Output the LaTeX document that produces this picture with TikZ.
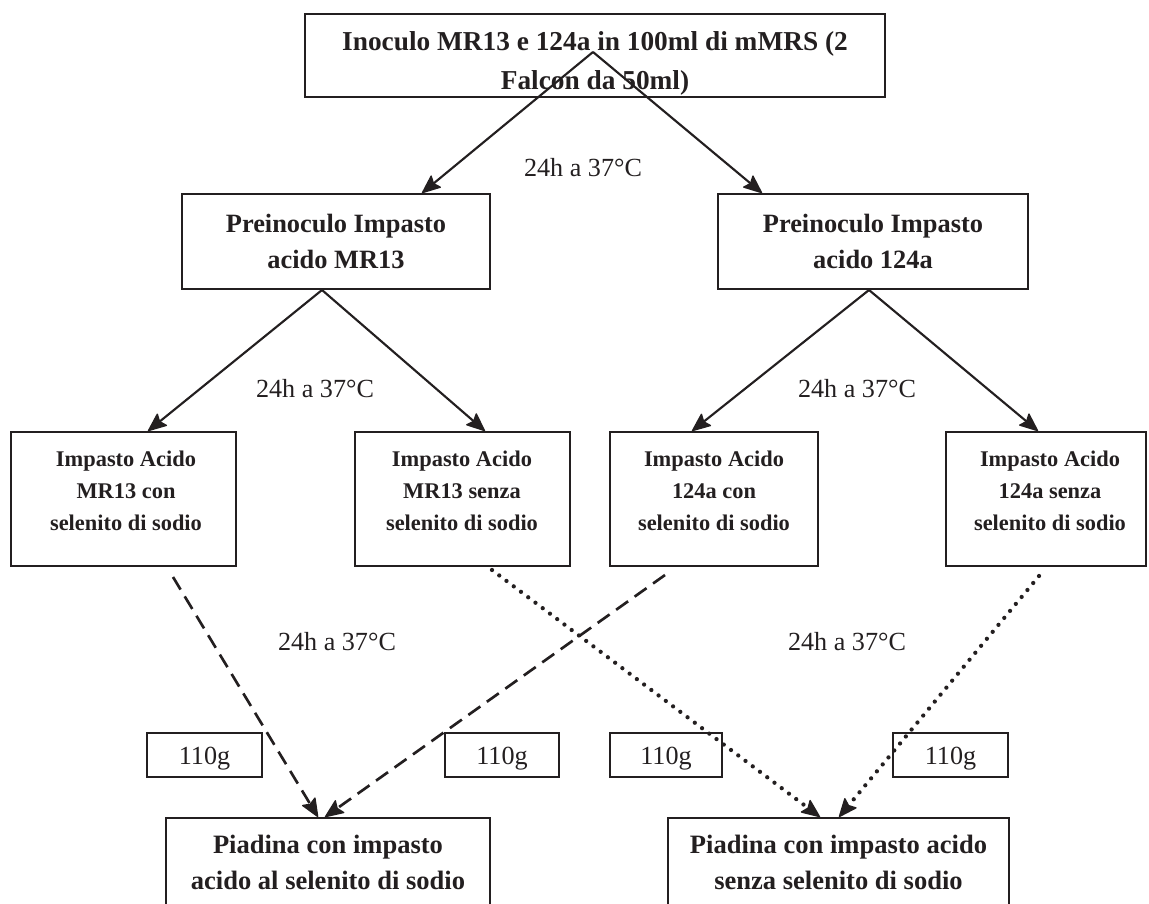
\documentclass[tikz,border=0pt]{standalone}
\usepackage{fontspec}
\setmainfont{Liberation Serif}
\usetikzlibrary{arrows.meta,calc,fit}
\definecolor{ink}{HTML}{231F20}

\begin{document}
\begin{tikzpicture}[x=0.75pt,y=-0.75pt,
  box/.style={draw=ink,line width=1.5pt,inner sep=0pt},
  txt/.style={text=ink,inner sep=0pt,align=center,anchor=north},
  fTop/.style={font=\fontsize{20.5pt}{29.3pt}\selectfont\bfseries},
  fPre/.style={font=\fontsize{19.8pt}{27pt}\selectfont\bfseries},
  fImp/.style={font=\fontsize{16.8pt}{24pt}\selectfont\bfseries},
  fPia/.style={font=\fontsize{19.9pt}{27pt}\selectfont\bfseries},
  lbl/.style={text=ink,inner sep=0pt,anchor=base,font=\fontsize{19.6pt}{23pt}\selectfont},
  tip/.style={-{Stealth[length=15pt,width=12.5pt,inset=2.5pt,line width=1pt,round]}},
  arr/.style={draw=ink,line width=1.6pt,tip},
  dasharr/.style={arr,line width=2pt,dash pattern=on 11pt off 6pt},
  dotarr/.style={arr,line width=3.2pt,line cap=round,dash pattern=on 0pt off 6.8pt}]

\useasboundingbox (0,0) rectangle (1149,903);
\clip (0,0) rectangle (1149,903);

% boxes
\node[box,fit={(305,14) (885,97)}] (inoc) {};
\node[box,fit={(182,194) (490,289)}] (pre1) {};
\node[box,fit={(718,194) (1028,289)}] (pre2) {};
\node[box,fit={(11,432) (236,566)}] (imp1) {};
\node[box,fit={(355,432) (570,566)}] (imp2) {};
\node[box,fit={(610,432) (818,566)}] (imp3) {};
\node[box,fit={(946,432) (1146,566)}] (imp4) {};
\node[box,fit={(147,733) (262,777)}] (g1) {};
\node[box,fit={(445,733) (559,777)}] (g2) {};
\node[box,fit={(610,733) (722,777)}] (g3) {};
\node[box,fit={(893,733) (1008,777)}] (g4) {};
\node[box,fit={(166,818) (490,930)}] (pia1) {};
\node[box,fit={(668,818) (1009,930)}] (pia2) {};

% box texts
\begin{scope}
  \clip (305,14) rectangle (885,97);
  \node[txt,fTop] (inoct) at (595,22.7) {\strut Inoculo MR13 e 124a in 100ml di mMRS (2\\Falcon da 50ml)};
\end{scope}
\node[txt,fPre] (pre1t) at (336,206.8) {\strut Preinoculo Impasto\\acido MR13};
\node[txt,fPre] (pre2t) at (873,206.8) {\strut Preinoculo Impasto\\acido 124a};
\node[txt,fImp] (imp1t) at (126,443.6) {\strut Impasto Acido\\MR13 con\\selenito di sodio};
\node[txt,fImp] (imp2t) at (462,443.6) {\strut Impasto Acido\\MR13 senza\\selenito di sodio};
\node[txt,fImp] (imp3t) at (714,443.6) {\strut Impasto Acido\\124a con\\selenito di sodio};
\node[txt,fImp] (imp4t) at (1050,443.6) {\strut Impasto Acido\\124a senza\\selenito di sodio};
\node[txt,fPia] (pia1t) at (328,828) {\strut Piadina con impasto\\acido al selenito di sodio};
\node[txt,fPia] (pia2t) at (838.5,828) {\strut Piadina con impasto acido\\senza selenito di sodio};
\node[lbl] (g1t) at (204.5,764) {110g};
\node[lbl] (g2t) at (502,764) {110g};
\node[lbl] (g3t) at (666,764) {110g};
\node[lbl] (g4t) at (950.5,764) {110g};

% incubation labels
\node[lbl] (inc1) at (583,176) {24h a 37°C};
\node[lbl] (inc2) at (315,397) {24h a 37°C};
\node[lbl] (inc3) at (857,397) {24h a 37°C};
\node[lbl] (inc4) at (337,650) {24h a 37°C};
\node[lbl] (inc5) at (847,650) {24h a 37°C};

% split points and free starts
\coordinate (s0) at (593,52);
\coordinate (s1) at ($(pre1.south)+(-14,0)$);
\coordinate (s2) at ($(pre2.south)+(-4,0)$);
\coordinate (da) at (173,577);
\coordinate (db) at (665,575);
\coordinate (oa) at (492,570);
\coordinate (ob) at (1039,576);

% solid connectors
\draw[arr] (s0) -- ($(pre1.north)+(86,0)$);
\draw[arr] (s0) -- ($(pre2.north)+(-111,0)$);
\draw[arr] (s1) -- ($(imp1.north)+(24.5,0)$);
\draw[arr] (s1) -- ($(imp2.north)+(22.5,0)$);
\draw[arr] (s2) -- ($(imp3.north)+(-22,0)$);
\draw[arr] (s2) -- ($(imp4.north)+(-8,0)$);

% dashed: with selenite
\draw[dasharr] (da) -- ($(pia1.north)+(-10,0)$);
\draw[dasharr] (db) -- ($(pia1.north)+(-3,0)$);
% dotted: without selenite
\draw[dotarr] (oa) -- ($(pia2.north)+(-18.5,0)$);
\draw[dotarr] (ob) -- ($(pia2.north)+(0.5,0)$);
\end{tikzpicture}
\end{document}
